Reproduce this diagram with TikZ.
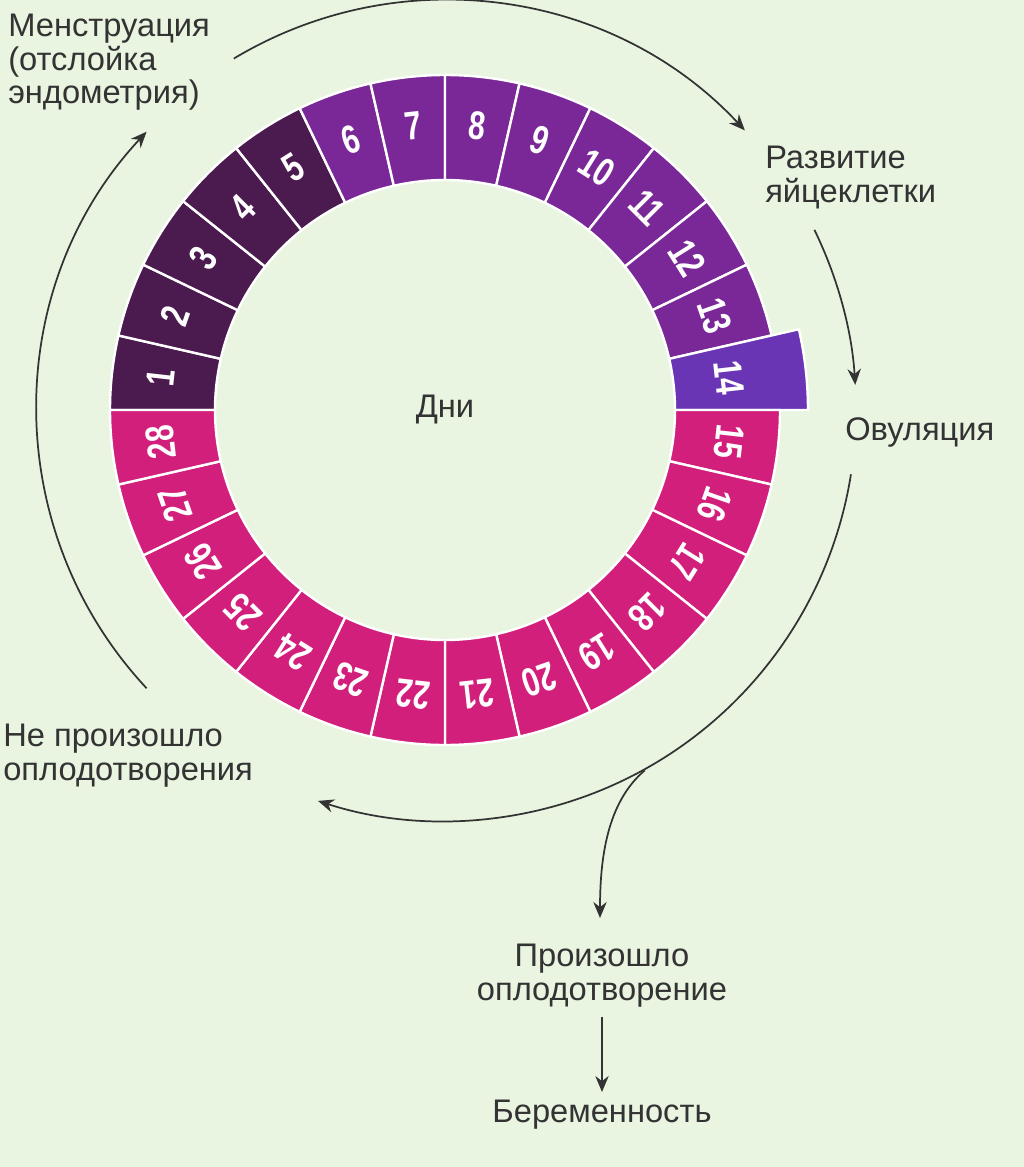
\documentclass[tikz,border=0pt]{standalone}
\usepackage{fontspec}
\setmainfont{Liberation Sans}
\usetikzlibrary{arrows.meta}
\definecolor{bg}{HTML}{E9F5E1}
\definecolor{dk}{HTML}{4B1A4F}
\definecolor{md}{HTML}{7A2898}
\definecolor{bl}{HTML}{6A35B5}
\definecolor{mg}{HTML}{D21F7C}
\definecolor{ar}{HTML}{333333}
\begin{document}
\begin{tikzpicture}[x=0.75pt,y=0.75pt,
  lbl/.style={font=\fontsize{24.5}{25}\selectfont,text=ar,inner sep=0pt},
  arr/.style={draw=ar,line width=1.3pt,-{Stealth[length=12pt,width=10pt]}},
  num/.style={text=white,font=\fontsize{30}{30}\bfseries\selectfont,inner sep=0pt}]
\fill[bg] (0,0) rectangle (1024,-1167);
\useasboundingbox (0,0) rectangle (1024,-1167);
\begin{scope}[shift={(445,-410)}]
\foreach \k in {1,...,28}{
  \pgfmathsetmacro\aa{180-(\k-1)*360/28}
  \pgfmathsetmacro\ab{\aa-360/28}
  \pgfmathsetmacro\am{\aa-180/28}
  \pgfmathsetmacro\R{ifthenelse(\k==14,363,335)}
  \ifnum\k<6 \def\col{dk}\else\ifnum\k<14 \def\col{md}\else\ifnum\k=14 \def\col{bl}\else\def\col{mg}\fi\fi\fi
  \filldraw[fill=\col,draw=white,line width=1.8pt] (\aa:230) -- (\aa:\R) arc[start angle=\aa,end angle=\ab,radius=\R] -- (\ab:230) arc[start angle=\ab,end angle=\aa,radius=230] -- cycle;
  \node[num,rotate=\am-90] (d\k) at (\am:286) {\scalebox{0.75}[1]{\k}};
}
\node[lbl] (dni) at (0,0) {Дни};
\coordinate (t1) at (121:410); \coordinate (t2) at (43:410);
\coordinate (r1) at (26:411); \coordinate (r2) at (3.5:411);
\coordinate (b1) at (-9:411); \coordinate (b2) at (-108:411);
\coordinate (l1) at (223:408); \coordinate (l2) at (137:408);
\coordinate (br) at (-61:412);
\draw[arr] (t1) arc[start angle=121,end angle=43,radius=410];
\draw[arr] (r1) arc[start angle=26,end angle=3.5,radius=411];
\draw[arr] (b1) arc[start angle=-9,end angle=-108,radius=411];
\draw[arr] (l1) arc[start angle=223,end angle=137,radius=408];
\end{scope}
\node[lbl,anchor=north west,align=left] (men) at (8,-14) {Менструация\\(отслойка\\эндометрия)};
\node[lbl,anchor=north west,align=left] (raz) at (765,-146) {Развитие\\яйцеклетки};
\node[lbl,anchor=west] (ovu) at (845,-432) {Овуляция};
\node[lbl,anchor=north west,align=left] (nep) at (3,-724) {Не произошло\\оплодотворения};
\node[lbl,anchor=north,align=center] (pro) at (602,-944) {Произошло\\оплодотворение};
\node[lbl] (ber) at (602,-1115) {Беременность};
\coordinate (bt) at (600,-918);
\draw[arr] (br) .. controls (610,-800) and (600,-850) .. (bt);
\draw[arr] (pro.south) ++(0,-10) coordinate (ps) (ps) -- (ber.north |- 0,-1092);
\end{tikzpicture}
\end{document}
